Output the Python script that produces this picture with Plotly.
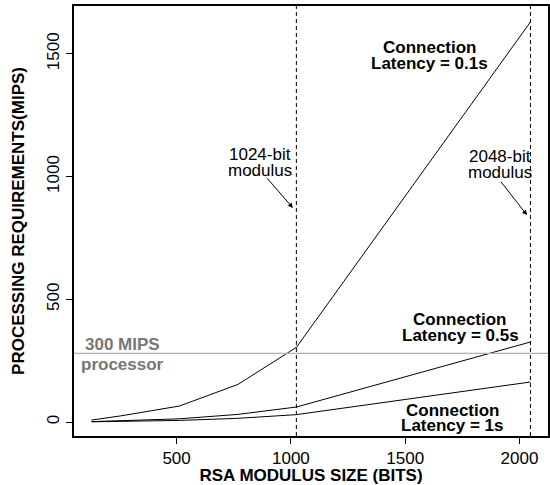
import plotly.graph_objects as go

# ---- data ----
key_bits = [128, 256, 512, 768, 1024, 2048]
latency_01s = [8, 25, 65, 153, 304, 1630]
latency_05s = [1.6, 5, 13, 31, 61, 326]
latency_1s = [0.8, 2.5, 6.5, 15, 30, 163]
processor_mips = 280
modulus_marks = [1024, 2048]
x_ticks = [500, 1000, 1500, 2000]
y_ticks = [0, 500, 1000, 1500]

FONT = "Liberation Sans, Arial, Helvetica, sans-serif"
FS = 17

fig = go.Figure()
for ys in (latency_01s, latency_05s, latency_1s):
    fig.add_trace(go.Scatter(x=key_bits, y=ys, mode="lines",
                             line=dict(color="black", width=1), showlegend=False,
                             hoverinfo="skip"))

# horizontal processor line
fig.add_shape(type="line", xref="paper", x0=0, x1=1, yref="y",
              y0=processor_mips, y1=processor_mips,
              line=dict(color="#b0b0b0", width=1.3))
# vertical modulus lines
for m in modulus_marks:
    fig.add_shape(type="line", xref="x", x0=m, x1=m, yref="paper", y0=0, y1=1,
                  line=dict(color="black", width=1, dash="4px,3px"))

def txt(x, y, s, bold=False, color="black"):
    if bold:
        s = "<b>" + s + "</b>"
    fig.add_annotation(x=x, y=y, xref="x", yref="y", text=s, showarrow=False,
                       font=dict(family=FONT, size=FS, color=color),
                       xanchor="center", yanchor="middle")

txt(1608, 1524, "Connection", bold=True)
txt(1608, 1460, "Latency = 0.1s", bold=True)
txt(865, 1090, "1024-bit")
txt(865, 1026, "modulus")
txt(1915, 1080, "2048-bit")
txt(1915, 1016, "modulus")
txt(1740, 418, "Connection", bold=True)
txt(1740, 354, "Latency = 0.5s", bold=True)
txt(1709, 48, "Connection", bold=True)
txt(1709, -14, "Latency = 1s", bold=True)
txt(265, 315, "300 MIPS", bold=True, color="#777777")
txt(265, 236, "processor", bold=True, color="#777777")

# arrows
for (tx, ty, hx, hy) in [(890, 1000, 1009, 872), (1914, 985, 2033, 843)]:
    fig.add_annotation(x=hx, y=hy, ax=tx, ay=ty, xref="x", yref="y",
                       axref="x", ayref="y", text="", showarrow=True,
                       arrowhead=2, arrowsize=1, arrowwidth=1, arrowcolor="black")

fig.update_layout(
    width=550, height=485,
    margin=dict(l=74, r=2, t=6, b=49),
    paper_bgcolor="white", plot_bgcolor="white",
    font=dict(family=FONT, size=FS, color="black"),
    showlegend=False,
)
fig.update_xaxes(range=[51.2, 2124.8], tickvals=x_ticks, ticks="outside", ticklen=6,
                 tickcolor="black", showgrid=False, zeroline=False, showline=True,
                 mirror=True, linecolor="black", linewidth=1.5,
                 tickfont=dict(size=FS),
                 title=dict(text="<b>RSA MODULUS SIZE (BITS)</b>", font=dict(size=FS), standoff=2),
                 automargin=False)
fig.update_yaxes(range=[-57, 1695], tickvals=y_ticks, ticks="outside", ticklen=6,
                 tickcolor="black", showgrid=False, zeroline=False, showline=True,
                 mirror=True, linecolor="black", linewidth=1.5, tickangle=-90,
                 tickfont=dict(size=FS),
                 title=dict(text="<b>PROCESSING REQUIREMENTS(MIPS)</b>", font=dict(size=FS), standoff=16),
                 automargin=False)

fig.write_html("out.html", config={"displayModeBar": False},
               post_script="document.body.style.margin='0';document.body.style.padding='0';"
                           "document.body.style.overflow='hidden';")
